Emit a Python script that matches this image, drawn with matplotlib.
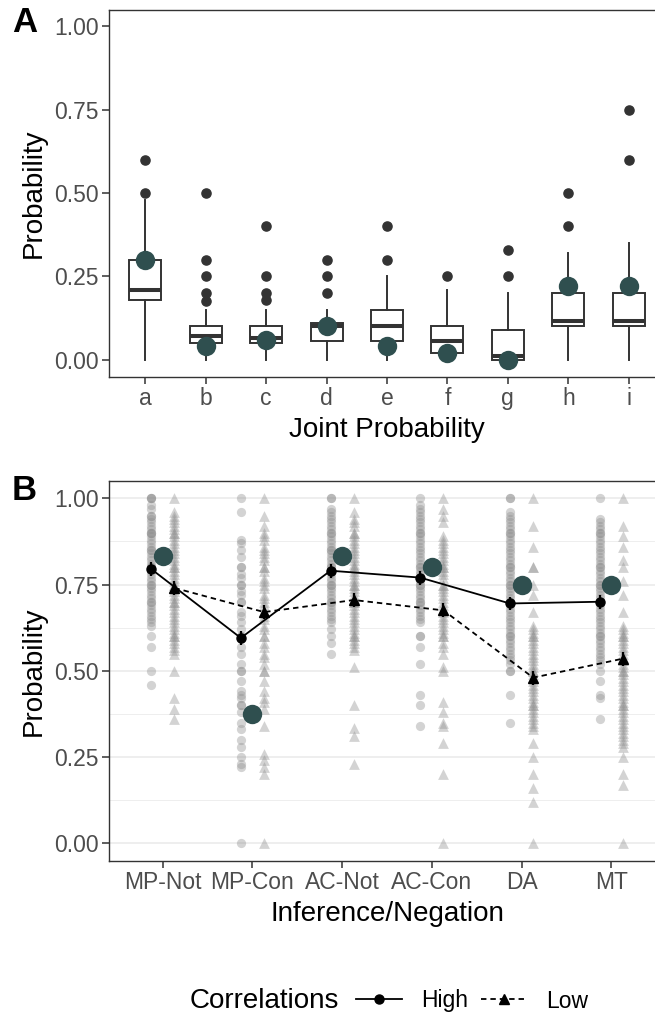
import matplotlib
matplotlib.use('Agg')
import matplotlib.pyplot as plt
from matplotlib.lines import Line2D
import numpy as np

plt.rcParams['font.family'] = ['Liberation Sans', 'DejaVu Sans']

# ---------------- Panel A data ----------------
joint_cats = ['a', 'b', 'c', 'd', 'e', 'f', 'g', 'h', 'i']
box_q1 = [0.18, 0.05, 0.05, 0.055, 0.055, 0.02, 0.0, 0.10, 0.10]
box_med = [0.21, 0.07, 0.065, 0.10, 0.10, 0.055, 0.01, 0.115, 0.115]
box_q3 = [0.30, 0.10, 0.10, 0.11, 0.15, 0.10, 0.09, 0.20, 0.20]
box_whislo = [0.0, 0.0, 0.0, 0.0, 0.0, 0.0, 0.0, 0.0, 0.0]
box_whishi = [0.48, 0.15, 0.15, 0.15, 0.25, 0.21, 0.20, 0.32, 0.35]
box_outliers = [
    [0.50, 0.60],
    [0.175, 0.20, 0.25, 0.30, 0.50],
    [0.18, 0.20, 0.25, 0.40],
    [0.20, 0.25, 0.30],
    [0.30, 0.40],
    [0.25],
    [0.25, 0.33],
    [0.40, 0.50],
    [0.60, 0.75],
]
joint_model = [0.30, 0.04, 0.06, 0.10, 0.04, 0.02, 0.0, 0.22, 0.22]

# ---------------- Panel B data ----------------
inference_cats = ['MP-Not', 'MP-Con', 'AC-Not', 'AC-Con', 'DA', 'MT']
high_mean = [0.795, 0.595, 0.79, 0.77, 0.695, 0.70]
low_mean = [0.74, 0.67, 0.705, 0.675, 0.48, 0.535]
high_se = [0.02, 0.02, 0.02, 0.02, 0.02, 0.02]
low_se = [0.02, 0.02, 0.02, 0.02, 0.02, 0.02]
inference_model = [0.833, 0.375, 0.833, 0.80, 0.75, 0.75]

high_raw = [
    [1.0, 1.0, 1.0, 0.98, 0.97, 0.95, 0.95, 0.94, 0.93, 0.92, 0.91, 0.90, 0.90, 0.90, 0.89, 0.88, 0.87,
     0.86, 0.85, 0.85, 0.84, 0.83, 0.82, 0.81, 0.80, 0.80, 0.80, 0.79, 0.78, 0.77, 0.76, 0.75, 0.75,
     0.74, 0.73, 0.72, 0.71, 0.70, 0.70, 0.69, 0.68, 0.67, 0.66, 0.65, 0.64, 0.63, 0.60, 0.57, 0.50, 0.46],
    [1.0, 0.96, 0.88, 0.87, 0.85, 0.83, 0.80, 0.80, 0.78, 0.77, 0.75, 0.75, 0.73, 0.72, 0.70, 0.70,
     0.67, 0.66, 0.64, 0.62, 0.60, 0.60, 0.57, 0.55, 0.52, 0.50, 0.50, 0.47, 0.44, 0.43, 0.42, 0.40,
     0.40, 0.38, 0.35, 0.33, 0.30, 0.28, 0.25, 0.23, 0.22, 0.0],
    [1.0, 1.0, 0.97, 0.96, 0.95, 0.94, 0.93, 0.92, 0.91, 0.90, 0.90, 0.89, 0.88, 0.87, 0.86, 0.85,
     0.85, 0.84, 0.83, 0.82, 0.81, 0.80, 0.80, 0.79, 0.78, 0.77, 0.76, 0.75, 0.75, 0.74, 0.73, 0.72,
     0.71, 0.70, 0.70, 0.69, 0.68, 0.67, 0.66, 0.65, 0.64, 0.62, 0.60, 0.58, 0.55],
    [1.0, 0.98, 0.97, 0.96, 0.95, 0.94, 0.93, 0.92, 0.91, 0.90, 0.90, 0.89, 0.88, 0.87, 0.86, 0.85,
     0.84, 0.83, 0.82, 0.81, 0.80, 0.80, 0.79, 0.78, 0.77, 0.76, 0.75, 0.75, 0.74, 0.73, 0.72, 0.71,
     0.70, 0.70, 0.69, 0.68, 0.67, 0.66, 0.65, 0.64, 0.60, 0.60, 0.57, 0.52, 0.43, 0.40, 0.34],
    [1.0, 1.0, 0.96, 0.95, 0.94, 0.93, 0.92, 0.91, 0.90, 0.90, 0.89, 0.88, 0.87, 0.86, 0.85, 0.84,
     0.83, 0.82, 0.81, 0.80, 0.80, 0.79, 0.78, 0.77, 0.76, 0.75, 0.75, 0.74, 0.73, 0.72, 0.71, 0.70,
     0.70, 0.69, 0.68, 0.67, 0.66, 0.65, 0.64, 0.63, 0.62, 0.61, 0.60, 0.60, 0.59, 0.58, 0.57, 0.56,
     0.55, 0.54, 0.53, 0.52, 0.50, 0.50, 0.43, 0.35],
    [1.0, 0.94, 0.93, 0.92, 0.91, 0.90, 0.90, 0.89, 0.88, 0.87, 0.86, 0.85, 0.84, 0.83, 0.82, 0.81,
     0.80, 0.80, 0.79, 0.78, 0.77, 0.76, 0.75, 0.75, 0.74, 0.73, 0.72, 0.71, 0.70, 0.70, 0.69, 0.68,
     0.67, 0.66, 0.65, 0.64, 0.63, 0.62, 0.61, 0.60, 0.60, 0.59, 0.58, 0.57, 0.56, 0.55, 0.54, 0.53,
     0.52, 0.50, 0.47, 0.43, 0.42, 0.36],
]
low_raw = [
    [1.0, 0.96, 0.95, 0.94, 0.93, 0.92, 0.91, 0.90, 0.90, 0.89, 0.88, 0.87, 0.86, 0.85, 0.84, 0.83,
     0.82, 0.81, 0.80, 0.80, 0.79, 0.78, 0.77, 0.76, 0.75, 0.75, 0.74, 0.73, 0.72, 0.71, 0.70, 0.70,
     0.69, 0.68, 0.67, 0.66, 0.65, 0.64, 0.63, 0.62, 0.61, 0.60, 0.60, 0.59, 0.58, 0.57, 0.56, 0.55,
     0.50, 0.42, 0.39, 0.36],
    [1.0, 0.95, 0.92, 0.90, 0.89, 0.88, 0.86, 0.85, 0.84, 0.83, 0.82, 0.80, 0.80, 0.79, 0.77, 0.76,
     0.75, 0.74, 0.72, 0.71, 0.70, 0.69, 0.67, 0.66, 0.65, 0.63, 0.62, 0.60, 0.60, 0.58, 0.57, 0.55,
     0.54, 0.52, 0.50, 0.50, 0.47, 0.44, 0.42, 0.41, 0.39, 0.34, 0.26, 0.24, 0.22, 0.20, 0.0],
    [1.0, 0.96, 0.94, 0.93, 0.92, 0.90, 0.90, 0.89, 0.88, 0.87, 0.86, 0.85, 0.84, 0.83, 0.82, 0.81,
     0.80, 0.80, 0.79, 0.78, 0.77, 0.76, 0.75, 0.75, 0.74, 0.73, 0.72, 0.71, 0.70, 0.70, 0.69, 0.68,
     0.67, 0.66, 0.65, 0.64, 0.63, 0.62, 0.61, 0.60, 0.60, 0.59, 0.58, 0.57, 0.56, 0.51, 0.40, 0.335,
     0.31, 0.23],
    [1.0, 0.97, 0.95, 0.93, 0.89, 0.88, 0.87, 0.86, 0.85, 0.84, 0.83, 0.82, 0.81, 0.80, 0.80, 0.79,
     0.78, 0.77, 0.75, 0.75, 0.74, 0.73, 0.72, 0.71, 0.70, 0.69, 0.68, 0.67, 0.66, 0.65, 0.64, 0.63,
     0.62, 0.61, 0.60, 0.60, 0.58, 0.57, 0.55, 0.51, 0.50, 0.41, 0.38, 0.35, 0.34, 0.29, 0.20, 0.0],
    [1.0, 0.92, 0.86, 0.80, 0.80, 0.75, 0.72, 0.67, 0.63, 0.62, 0.61, 0.60, 0.60, 0.59, 0.58, 0.57,
     0.56, 0.55, 0.54, 0.53, 0.52, 0.51, 0.50, 0.50, 0.49, 0.48, 0.47, 0.46, 0.45, 0.44, 0.43, 0.42,
     0.41, 0.40, 0.40, 0.39, 0.38, 0.37, 0.36, 0.35, 0.34, 0.33, 0.29, 0.25, 0.20, 0.16, 0.12, 0.0],
    [1.0, 0.92, 0.89, 0.86, 0.82, 0.80, 0.76, 0.72, 0.67, 0.63, 0.62, 0.61, 0.60, 0.60, 0.59, 0.58,
     0.57, 0.56, 0.55, 0.54, 0.53, 0.52, 0.51, 0.50, 0.50, 0.49, 0.48, 0.47, 0.46, 0.45, 0.44, 0.43,
     0.42, 0.41, 0.40, 0.40, 0.39, 0.38, 0.37, 0.36, 0.35, 0.34, 0.33, 0.32, 0.31, 0.30, 0.29, 0.28,
     0.25, 0.20, 0.17, 0.0],
]

yticks = [0.0, 0.25, 0.5, 0.75, 1.0]
ytick_labels = ['0.00', '0.25', '0.50', '0.75', '1.00']

# ---------------- Figure ----------------
W, H = 655, 1017
fig = plt.figure(figsize=(W / 100, H / 100), dpi=100)
fig.patch.set_facecolor('white')

TEAL = '#2F4F4F'
DARK = '#333333'
TICKC = '#4D4D4D'


def fx(px):
    return px / W


def fy(py):
    return 1 - py / H


def style_axes(ax):
    for s in ax.spines.values():
        s.set_color(DARK)
        s.set_linewidth(1.0)
    ax.tick_params(axis='both', colors=DARK, labelcolor=TICKC, labelsize=16.5,
                   length=5, width=1.1, pad=2.5)
    ax.set_yticks(yticks)
    ax.set_yticklabels(ytick_labels)
    ax.set_ylim(-0.05, 1.05)


# Panel A
axA = fig.add_axes([fx(109), fy(376.5), fx(665) - fx(109), fy(9.5) - fy(376.5)])
style_axes(axA)
posA = np.arange(1, len(joint_cats) + 1)
stats = []
for i in range(len(joint_cats)):
    stats.append(dict(med=box_med[i], q1=box_q1[i], q3=box_q3[i],
                      whislo=box_whislo[i], whishi=box_whishi[i],
                      fliers=box_outliers[i]))
axA.bxp(stats, positions=posA, widths=0.53, patch_artist=True, showcaps=False,
        boxprops=dict(facecolor='white', edgecolor=DARK, linewidth=1.4),
        medianprops=dict(color=DARK, linewidth=2.9),
        whiskerprops=dict(color=DARK, linewidth=1.4),
        flierprops=dict(marker='o', markerfacecolor=DARK, markeredgecolor=DARK,
                        markersize=6.6))
axA.scatter(posA, joint_model, s=195, color=TEAL, zorder=5, linewidths=0)
axA.set_xlim(0.4, len(joint_cats) + 0.6)
axA.set_xticks(posA)
axA.set_xticklabels(joint_cats)
axA.set_xlabel('Joint Probability', fontsize=20, labelpad=5)
axA.set_ylabel('Probability', fontsize=20, labelpad=5)

# Panel B
axB = fig.add_axes([fx(109), fy(860.5), fx(665) - fx(109), fy(481) - fy(860.5)])
style_axes(axB)
axB.set_yticks([0.125, 0.375, 0.625, 0.875], minor=True)
axB.tick_params(axis='y', which='minor', length=0)
axB.grid(True, axis='y', which='major', color='#EBEBEB', linewidth=1.2, zorder=0)
axB.grid(True, axis='y', which='minor', color='#EBEBEB', linewidth=0.6, zorder=0)
axB.set_axisbelow(True)
posB = np.arange(1, len(inference_cats) + 1)
off = 0.13
for i in range(len(inference_cats)):
    axB.scatter(np.full(len(high_raw[i]), posB[i] - off), high_raw[i], s=44,
                marker='o', color='#8C8C8C', alpha=0.38, linewidths=0, zorder=2)
    axB.scatter(np.full(len(low_raw[i]), posB[i] + off), low_raw[i], s=60,
                marker='^', color='#8C8C8C', alpha=0.38, linewidths=0, zorder=2)
axB.errorbar(posB - off, high_mean, yerr=high_se, fmt='-', color='black',
             marker='o', markersize=6.5, linewidth=1.3, elinewidth=1.6,
             capsize=0, zorder=4)
axB.errorbar(posB + off, low_mean, yerr=low_se, fmt='--', color='black',
             marker='^', markersize=7.5, linewidth=1.3, elinewidth=1.6,
             capsize=0, zorder=4, dashes=(3, 2.2))
axB.scatter(posB, inference_model, s=195, color=TEAL, zorder=5, linewidths=0)
axB.set_xlim(0.4, len(inference_cats) + 0.6)
axB.set_xticks(posB)
axB.set_xticklabels(inference_cats)
axB.set_xlabel('Inference/Negation', fontsize=20, labelpad=5)
axB.set_ylabel('Probability', fontsize=20, labelpad=5)

# Panel letters
fig.text(fx(12), fy(23), 'A', fontsize=25, fontweight='bold', va='center', ha='left')
fig.text(fx(12), fy(491), 'B', fontsize=25, fontweight='bold', va='center', ha='left')

# Legend
fig.text(fx(190), fy(1001), 'Correlations', fontsize=20, va='center', ha='left')
handles = [Line2D([0], [0], color='black', linestyle='-', marker='o', markersize=6.5,
                  linewidth=1.3),
           Line2D([0], [0], color='black', linestyle='--', marker='^', markersize=7.5,
                  linewidth=1.3, dashes=(3, 2.2))]
fig.legend(handles, ['High', 'Low'], ncol=2, loc='center left',
           bbox_to_anchor=(fx(356), fy(1001)), frameon=False, fontsize=16.5,
           handlelength=2.0, handletextpad=0.85, columnspacing=0.55,
           borderpad=0, borderaxespad=0)

fig.savefig('out.png', dpi=100, facecolor='white')
